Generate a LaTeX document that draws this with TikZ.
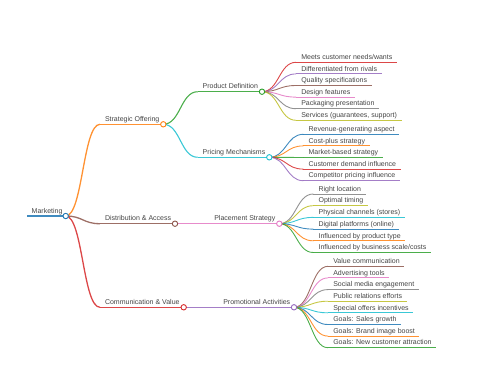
\documentclass[tikz,border=0pt]{standalone}
\usepackage{fontspec}
\setmainfont{Liberation Sans}
\usetikzlibrary{calc}
\definecolor{cBlue}{HTML}{1F77B4}
\definecolor{cOrange}{HTML}{FF7F0E}
\definecolor{cGreen}{HTML}{2CA02C}
\definecolor{cRed}{HTML}{D62728}
\definecolor{cPurple}{HTML}{9467BD}
\definecolor{cBrown}{HTML}{8C564B}
\definecolor{cPink}{HTML}{E377C2}
\definecolor{cGray}{HTML}{7F7F7F}
\definecolor{cOlive}{HTML}{BCBD22}
\definecolor{cCyan}{HTML}{17BECF}
\definecolor{txtgray}{HTML}{444444}
\pgfdeclarelayer{bg}
\pgfsetlayers{bg,main}
\tikzset{
  mmtext/.style={anchor=base west, inner sep=0pt, outer sep=0pt, font=\fontsize{7}{8}\selectfont, text=txtgray},
  mmdot/.style={circle, fill=white, line width=0.9pt, minimum size=5.4pt, inner sep=0pt},
  mmline/.style={draw opacity=0.85},
}
\newcommand{\mmlink}[3]{%
  \begin{pgfonlayer}{bg}
  \draw[mmline, #3] let \p1=(#1.center), \p2=(#2) in (\p1) .. controls ({(\x1+\x2)/2},\y1) and ({(\x1+\x2)/2},\y2) .. (\p2);
  \end{pgfonlayer}}
\newcommand{\mmleaf}[6]{%
  \coordinate (#2-s) at (#3,#4);
  \node[mmtext] (#2) at ($(#2-s)+(5.3,-2.8)$) {#6};
  \mmlink{#1}{#2-s}{#5, line width=0.9pt}
  \begin{pgfonlayer}{bg}
  \draw[mmline, #5, line width=0.9pt] (#2-s) -- ($(#2.east |- #2-s)+(4.5,0)$);
  \end{pgfonlayer}}
\newcommand{\mminner}[8]{%
  \coordinate (#2-s) at (#3,#4);
  \node[mmtext] (#2-t) at ($(#2-s)+(5,-2.8)$) {#8};
  \node[mmdot, draw=#6] (#2) at (#5,#4) {};
  \mmlink{#1}{#2-s}{#6, line width=#7}
  \begin{pgfonlayer}{bg}
  \draw[mmline, #6, line width=#7] (#2-s) -- (#2.center);
  \end{pgfonlayer}}
\begin{document}
\begin{tikzpicture}[x=1pt, y=-1pt]
\useasboundingbox (0,0) rectangle (480,384);
% root
\coordinate (root-s) at (27,216);
\node[mmtext] (root-t) at (31.7,213.2) {Marketing};
\node[mmdot, draw=cBlue] (root) at (65.7,216) {};
\begin{pgfonlayer}{bg}
\draw[mmline, cBlue, line width=1.7pt] (root-s) -- (root.center);
\end{pgfonlayer}
% level 1
\mminner{root}{so}{100}{124.3}{163.3}{cOrange}{1.3pt}{Strategic Offering}
\mminner{root}{da}{100}{223.7}{175}{cBrown}{1.3pt}{Distribution \& Access}
\mminner{root}{cv}{100}{307.3}{183.7}{cRed}{1.3pt}{Communication \& Value}
% level 2
\mminner{so}{pd}{197.7}{91.7}{262}{cGreen}{1.1pt}{Product Definition}
\mminner{so}{pm}{197.7}{157.3}{269.3}{cCyan}{1.1pt}{Pricing Mechanisms}
\mminner{da}{ps}{209.3}{223.7}{279.3}{cPink}{1.1pt}{Placement Strategy}
\mminner{cv}{pa}{218.3}{307.3}{294}{cPurple}{1.1pt}{Promotional Activities}
% leaves of Product Definition
\mmleaf{pd}{pd1}{296}{62.3}{cRed}{Meets customer needs/wants}
\mmleaf{pd}{pd2}{296}{73.9}{cPurple}{Differentiated from rivals}
\mmleaf{pd}{pd3}{296}{85.5}{cBrown}{Quality specifications}
\mmleaf{pd}{pd4}{296}{97.1}{cPink}{Design features}
\mmleaf{pd}{pd5}{296}{108.7}{cGray}{Packaging presentation}
\mmleaf{pd}{pd6}{296}{120.3}{cOlive}{Services (guarantees, support)}
% leaves of Pricing Mechanisms
\mmleaf{pm}{pm1}{303.3}{134.3}{cBlue}{Revenue-generating aspect}
\mmleaf{pm}{pm2}{303.3}{145.9}{cOrange}{Cost-plus strategy}
\mmleaf{pm}{pm3}{303.3}{157.5}{cGreen}{Market-based strategy}
\mmleaf{pm}{pm4}{303.3}{169.1}{cRed}{Customer demand influence}
\mmleaf{pm}{pm5}{303.3}{180.7}{cPurple}{Competitor pricing influence}
% leaves of Placement Strategy
\mmleaf{ps}{ps1}{313.3}{194.0}{cGray}{Right location}
\mmleaf{ps}{ps2}{313.3}{205.7}{cOlive}{Optimal timing}
\mmleaf{ps}{ps3}{313.3}{217.4}{cCyan}{Physical channels (stores)}
\mmleaf{ps}{ps4}{313.3}{229.1}{cBlue}{Digital platforms (online)}
\mmleaf{ps}{ps5}{313.3}{240.8}{cOrange}{Influenced by product type}
\mmleaf{ps}{ps6}{313.3}{252.5}{cGreen}{Influenced by business scale/costs}
% leaves of Promotional Activities
\mmleaf{pa}{pa1}{328}{266.3}{cBrown}{Value communication}
\mmleaf{pa}{pa2}{328}{277.9}{cPink}{Advertising tools}
\mmleaf{pa}{pa3}{328}{289.6}{cGray}{Social media engagement}
\mmleaf{pa}{pa4}{328}{301.2}{cOlive}{Public relations efforts}
\mmleaf{pa}{pa5}{328}{312.8}{cCyan}{Special offers incentives}
\mmleaf{pa}{pa6}{328}{324.5}{cBlue}{Goals: Sales growth}
\mmleaf{pa}{pa7}{328}{336.1}{cOrange}{Goals: Brand image boost}
\mmleaf{pa}{pa8}{328}{347.7}{cGreen}{Goals: New customer attraction}
\end{tikzpicture}
\end{document}
